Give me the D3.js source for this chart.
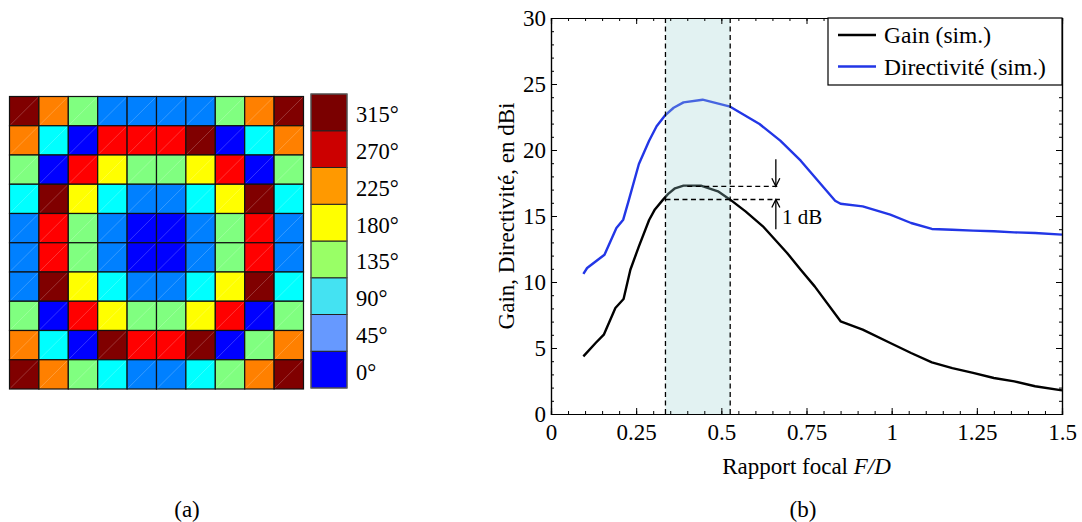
<!DOCTYPE html>
<html><head><meta charset="utf-8">
<script src="https://cdn.jsdelivr.net/npm/d3@7"></script>
<style>
html,body{margin:0;padding:0;background:#fff;}
svg{display:block;font-family:"Liberation Serif","Times New Roman",serif;}
</style></head>
<body>
<svg id="c" width="1082" height="522"></svg>
<script>
// ---------- data (a): phase map ----------
const phaseGrid = [
  [315,225,135,45,45,45,45,135,225,315],
  [225,90,0,270,270,270,315,0,90,225],
  [135,0,270,180,135,135,180,270,0,135],
  [90,315,180,90,45,45,90,180,315,90],
  [45,270,135,45,0,0,45,135,270,45],
  [45,270,135,45,0,0,45,135,270,45],
  [45,315,180,90,45,45,90,180,315,90],
  [135,0,270,180,135,135,180,270,0,135],
  [225,90,0,315,270,270,315,0,135,225],
  [315,225,135,90,45,45,90,135,225,315]
];
const phaseLevels = [0,45,90,135,180,225,270,315];
const cellColors  = ["#0000ff","#0080ff","#00ffff","#80ff80","#ffff00","#ff8000","#ff0000","#800000"];
const barColors   = ["#0000ff","#6699ff","#44e2f2","#99ff66","#ffff00","#ff9900","#cc0000","#7a0000"];
const barLabels   = ["0°","45°","90°","135°","180°","225°","270°","315°"];

// ---------- data (b): gain / directivity vs F/D ----------
const gainFD = [0.095,0.131,0.155,0.189,0.213,0.233,0.258,0.288,0.305,0.329,0.345,0.364,0.389,0.44,0.49,0.526,0.571,0.622,0.693,0.733,0.774,0.85,0.915,0.996,1.057,1.118,1.178,1.239,1.3,1.36,1.421,1.5];
const gainDB = [4.37,5.38,6.01,8.03,8.71,10.93,12.70,14.70,15.50,16.24,16.70,17.10,17.30,17.30,16.87,16.24,15.35,14.22,12.20,10.93,9.67,7.02,6.39,5.38,4.62,3.91,3.48,3.11,2.73,2.47,2.10,1.79];
const dirFD  = [0.095,0.106,0.157,0.192,0.212,0.228,0.258,0.288,0.310,0.334,0.360,0.389,0.445,0.526,0.612,0.673,0.733,0.834,0.85,0.915,0.996,1.057,1.118,1.178,1.239,1.3,1.36,1.421,1.5];
const dirDB  = [10.61,11.06,12.07,14.09,14.72,16.16,18.94,20.70,21.80,22.60,23.20,23.61,23.81,23.28,21.97,20.71,19.19,16.16,15.93,15.73,15.10,14.47,14.02,13.96,13.89,13.84,13.76,13.71,13.59];
const xTicks = [0,0.25,0.5,0.75,1,1.25,1.5];
const xTickLabels = ["0","0.25","0.5","0.75","1","1.25","1.5"];
const yTicks = [0,5,10,15,20,25,30];
const band = [0.336,0.526];          // F/D range within 1 dB
const levelsDB = [17.25,16.25];      // peak and peak - 1 dB
const seriesNames = ["Gain (sim.)","Directivité (sim.)"];
const seriesColors = ["#000000","#2236e6"];

const svg = d3.select("#c");
const FONT = 23;

// ---------- panel (a) ----------
const gx = d3.scaleBand().domain(d3.range(10)).range([9.5,303.5]);
const gy = d3.scaleBand().domain(d3.range(10)).range([96.5,389]);
const colorOf = d3.scaleOrdinal().domain(phaseLevels).range(cellColors);
const ga = svg.append("g");
phaseGrid.forEach((row,r)=>row.forEach((v,c)=>{
  ga.append("rect").attr("x",gx(c)).attr("y",gy(r)).attr("width",gx.bandwidth()).attr("height",gy.bandwidth())
    .attr("fill",colorOf(v)).attr("stroke","#111").attr("stroke-width",1.2);
  ga.append("line").attr("x1",gx(c)+1).attr("y1",gy(r)+gy.bandwidth()-1).attr("x2",gx(c)+gx.bandwidth()-1).attr("y2",gy(r)+1)
    .attr("stroke","#fff").attr("stroke-opacity",0.3).attr("stroke-width",0.7);
}));

const cb = d3.scaleBand().domain(phaseLevels.slice().reverse()).range([94,388]);
const barColorOf = d3.scaleOrdinal().domain(phaseLevels).range(barColors);
const labelOf = d3.scaleOrdinal().domain(phaseLevels).range(barLabels);
const gcb = svg.append("g");
phaseLevels.forEach(v=>{
  gcb.append("rect").attr("x",311).attr("y",cb(v)).attr("width",36).attr("height",cb.bandwidth())
    .attr("fill",barColorOf(v)).attr("stroke","#222").attr("stroke-width",1);
  gcb.append("text").attr("x",356).attr("y",cb(v)+cb.bandwidth()/2+2).attr("dy","0.35em")
    .attr("font-size",22.5).text(labelOf(v));
});
gcb.append("rect").attr("x",311).attr("y",94).attr("width",36).attr("height",294).attr("fill","none").attr("stroke","#666").attr("stroke-width",1);

svg.append("text").attr("x",187).attr("y",517).attr("text-anchor","middle").attr("font-size",FONT).text("(a)");

// ---------- panel (b) ----------
const x = d3.scaleLinear().domain([0,1.5]).range([551,1062]);
const y = d3.scaleLinear().domain([0,30]).range([414,18]);
const gb = svg.append("g");

const line = d3.line().x(d=>x(d[0])).y(d=>y(d[1]));
const gainPts = gainFD.map((f,i)=>[f,gainDB[i]]);
const dirPts = dirFD.map((f,i)=>[f,dirDB[i]]);
gb.append("path").attr("d",line(dirPts)).attr("fill","none").attr("stroke",seriesColors[1]).attr("stroke-width",2.4).attr("stroke-linejoin","round");
gb.append("path").attr("d",line(gainPts)).attr("fill","none").attr("stroke",seriesColors[0]).attr("stroke-width",2.4).attr("stroke-linejoin","round");

// band (translucent, over curves)
gb.append("rect").attr("x",x(band[0])).attr("y",y(30)).attr("width",x(band[1])-x(band[0])).attr("height",y(0)-y(30))
  .attr("fill","rgb(158,212,212)").attr("fill-opacity",0.3);
const dash = "5,3.5";
band.forEach(b=>{
  gb.append("line").attr("x1",x(b)).attr("x2",x(b)).attr("y1",y(30)).attr("y2",y(0))
    .attr("stroke","#000").attr("stroke-width",1.3).attr("stroke-dasharray",dash);
});
gb.append("line").attr("x1",x(0.40)).attr("x2",x(0.668)).attr("y1",y(levelsDB[0])).attr("y2",y(levelsDB[0]))
  .attr("stroke","#000").attr("stroke-width",1.3).attr("stroke-dasharray",dash);
gb.append("line").attr("x1",x(band[0])).attr("x2",x(0.672)).attr("y1",y(levelsDB[1])).attr("y2",y(levelsDB[1]))
  .attr("stroke","#000").attr("stroke-width",1.3).attr("stroke-dasharray",dash);

// arrows
const ax = x(0.66);
function arrow(x0,yFrom,yTo){
  gb.append("line").attr("x1",x0).attr("x2",x0).attr("y1",yFrom).attr("y2",yTo).attr("stroke","#000").attr("stroke-width",1.3);
  const s = yTo>yFrom?-1:1;
  gb.append("path").attr("d",`M${x0-4},${yTo+s*8}L${x0},${yTo}L${x0+4},${yTo+s*8}`).attr("fill","none").attr("stroke","#000").attr("stroke-width",1.3);
}
arrow(ax,y(19.3),y(levelsDB[0]));
arrow(ax,y(14.0),y(levelsDB[1]));
gb.append("text").attr("x",x(0.678)).attr("y",y(14.4)).attr("font-size",21).text("1 dB");

// axes
const fmt = d3.scaleOrdinal().domain(xTicks).range(xTickLabels);
gb.append("g").attr("transform",`translate(0,${y(0)})`)
  .call(d3.axisBottom(x).tickValues(xTicks).tickSize(-6).tickPadding(10).tickFormat(d=>fmt(d)));
gb.append("g").attr("transform",`translate(0,${y(0)})`)
  .call(d3.axisBottom(x).tickValues(d3.range(0,1.5001,0.05)).tickSize(-3).tickFormat(""));
gb.append("g").attr("transform",`translate(0,${y(30)})`)
  .call(d3.axisTop(x).tickValues(xTicks).tickSize(-6).tickFormat(""));
gb.append("g").attr("transform",`translate(0,${y(30)})`)
  .call(d3.axisTop(x).tickValues(d3.range(0,1.5001,0.05)).tickSize(-3).tickFormat(""));
gb.append("g").attr("transform",`translate(${x(0)},0)`)
  .call(d3.axisLeft(y).tickValues(yTicks).tickSize(-6).tickPadding(5).tickFormat(d3.format("d")));
gb.append("g").attr("transform",`translate(${x(0)},0)`)
  .call(d3.axisLeft(y).tickValues(d3.range(0,30.01,1)).tickSize(-3).tickFormat(""));
gb.append("g").attr("transform",`translate(${x(1.5)},0)`)
  .call(d3.axisRight(y).tickValues(yTicks).tickSize(-6).tickFormat(""));
gb.append("g").attr("transform",`translate(${x(1.5)},0)`)
  .call(d3.axisRight(y).tickValues(d3.range(0,30.01,1)).tickSize(-3).tickFormat(""));
gb.selectAll(".domain").attr("stroke","#000").attr("stroke-width",1.2);
gb.selectAll(".tick line").attr("stroke","#000").attr("stroke-width",1);
gb.selectAll(".tick text").attr("font-family","Liberation Serif, Times New Roman, serif").attr("font-size",FONT).attr("fill","#000");

// legend
const lg = gb.append("g");
lg.append("rect").attr("x",828).attr("y",y(30)).attr("width",x(1.5)-828).attr("height",67).attr("fill","#fff").attr("stroke","#000").attr("stroke-width",1.2);
seriesNames.forEach((n,i)=>{
  const yy = y(30)+17+i*31.5;
  lg.append("line").attr("x1",838).attr("x2",876).attr("y1",yy).attr("y2",yy).attr("stroke",seriesColors[i]).attr("stroke-width",2.6);
  lg.append("text").attr("x",884).attr("y",yy).attr("dy","0.35em").attr("font-size",FONT+0.5).text(n);
});

// axis labels
const xl = gb.append("text").attr("x",(x(0)+x(1.5))/2).attr("y",474).attr("text-anchor","middle").attr("font-size",FONT);
xl.append("tspan").text("Rapport focal ");
xl.append("tspan").attr("font-style","italic").text("F/D");
gb.append("text").attr("transform",`translate(514,${(y(0)+y(30))/2}) rotate(-90)`).attr("text-anchor","middle").attr("font-size",FONT)
  .text("Gain, Directivité, en dBi");
svg.append("text").attr("x",803).attr("y",517).attr("text-anchor","middle").attr("font-size",FONT).text("(b)");
</script>
</body></html>
